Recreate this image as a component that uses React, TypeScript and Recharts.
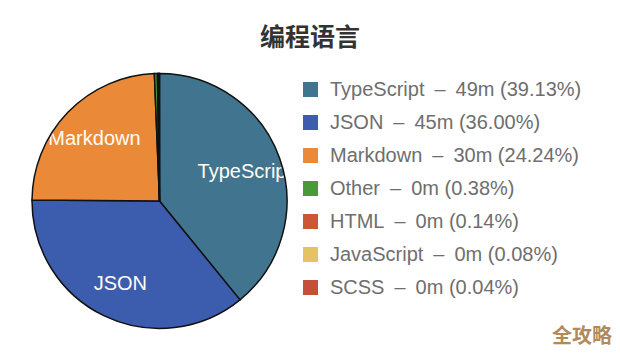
import React from "react";
import { PieChart, Pie, Cell, Legend } from "recharts";

const title = "编程语言";
const languages = ["TypeScript", "JSON", "Markdown", "Other", "HTML", "JavaScript", "SCSS"];
const minutes = ["49m", "45m", "30m", "0m", "0m", "0m", "0m"];
const percents = [39.13, 36.0, 24.24, 0.38, 0.14, 0.08, 0.04];
const colors = ["#40748f", "#3c5dad", "#ea8a38", "#489a36", "#cb5734", "#e3c362", "#c5503a"];
const watermark = "全攻略";

const data = languages.map((name, i) => ({ name, value: percents[i], minutes: minutes[i] }));

const CX = 159.5;
const CY = 201;
const R = 127.5;
const FONT = "'Liberation Sans', Arial, 'Noto Sans CJK SC', sans-serif";

const RADIAN = Math.PI / 180;

const renderLabel = (props: any) => {
  const { cx, cy, midAngle, outerRadius, index, name, percent } = props;
  if (percent < 0.05) return null;
  const r = outerRadius * 0.71;
  const x = cx + r * Math.cos(-midAngle * RADIAN);
  const y = cy + r * Math.sin(-midAngle * RADIAN);
  const id = `pie-clip-${index}`;
  return (
    <g>
      <defs>
        <clipPath id={id}>
          <circle cx={cx} cy={cy} r={outerRadius - 1} />
        </clipPath>
      </defs>
      <text
        x={x}
        y={y}
        fill="#fffdf5"
        fontSize={20}
        fontFamily={FONT}
        textAnchor="middle"
        dominantBaseline="central"
        clipPath={`url(#${id})`}
      >
        {name}
      </text>
    </g>
  );
};

const LegendContent = () => (
  <div style={{ fontFamily: FONT }}>
    {data.map((d, i) => (
      <div
        key={d.name}
        style={{ display: "flex", alignItems: "center", height: 33, whiteSpace: "nowrap" }}
      >
        <span
          style={{
            display: "inline-block",
            width: 15,
            height: 15,
            background: colors[i],
            marginRight: 12,
          }}
        />
        <span style={{ fontSize: 20, color: "#6e6e6e" }}>
          {`${d.name}\u2002–\u2002${d.minutes} (${d.value.toFixed(2)}%)`}
        </span>
      </div>
    ))}
  </div>
);

export default function App() {
  return (
    <div style={{ position: "absolute", left: 0, top: 0, width: 620, height: 354, background: "#fff" }}>
      <div
        style={{
          position: "absolute",
          left: 0,
          top: 20,
          width: 620,
          textAlign: "center",
          fontSize: 25,
          fontWeight: "bold",
          color: "#333",
          fontFamily: "'Noto Sans CJK SC', sans-serif",
          lineHeight: "30px",
        }}
      >
        {title}
      </div>
      <PieChart
        width={620}
        height={354}
        margin={{ top: 0, right: 0, bottom: 0, left: 0 }}
        style={{ position: "absolute", left: 0, top: 0 }}
      >
        <Pie
          data={data}
          dataKey="value"
          nameKey="name"
          cx={CX}
          cy={CY}
          outerRadius={R}
          startAngle={90}
          endAngle={-270}
          stroke="#111"
          strokeWidth={1.5}
          label={renderLabel}
          labelLine={false}
          isAnimationActive={false}
        >
          {data.map((d, i) => (
            <Cell key={d.name} fill={colors[i]} />
          ))}
        </Pie>
        <Legend
          layout="vertical"
          align="right"
          verticalAlign="top"
          content={LegendContent}
          wrapperStyle={{ left: 303, top: 73, width: 315 }}
        />
      </PieChart>
      <div
        style={{
          position: "absolute",
          left: 552,
          top: 322,
          fontSize: 20,
          fontWeight: "bold",
          color: "#b08a5c",
          fontFamily: "'Noto Sans CJK SC', sans-serif",
          lineHeight: "26px",
        }}
      >
        {watermark}
      </div>
    </div>
  );
}
